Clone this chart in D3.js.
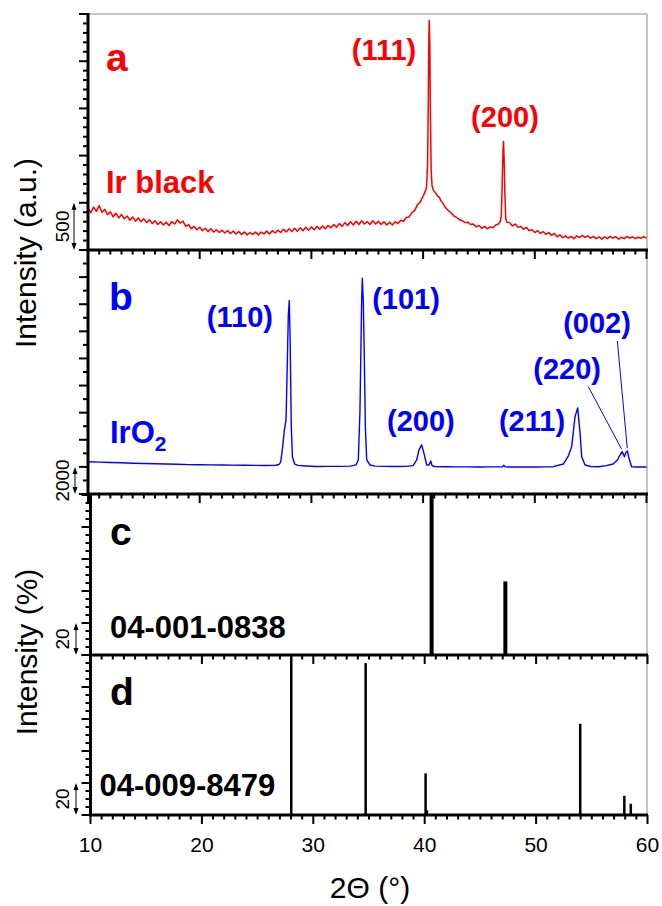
<!DOCTYPE html>
<html>
<head>
<meta charset="utf-8">
<script src="https://cdn.jsdelivr.net/npm/d3@7"></script>
<style>
  body { margin: 0; background: #fff; }
  text { font-family: "Liberation Sans", Arial, Helvetica, sans-serif; }
</style>
</head>
<body>
<svg id="chart" width="662" height="906"></svg>
<script>
// ---- DATA ----
// (a) Ir black, measured pattern [2theta, counts]
const irBlack = [
  [10.0,440],[10.25,395],[10.5,455],[10.75,410],[11.0,470],[11.25,400],[11.5,430],[11.75,375],
  [12.0,405],[12.25,350],[12.5,390],[12.75,340],[13.0,375],[13.25,330],[13.5,360],[13.75,315],
  [14.0,350],[14.25,305],[14.5,340],[14.75,300],[15.0,330],[15.25,290],[15.5,320],[15.75,280],
  [16.0,310],[16.25,270],[16.5,300],[16.75,265],[17.0,295],[17.25,260],[17.5,300],[17.75,275],
  [18.0,320],[18.25,285],[18.5,305],[18.75,250],[19.0,270],[19.25,225],[19.5,250],[19.75,215],
  [20.0,240],[20.25,205],[20.5,230],[20.75,195],[21.0,225],[21.25,190],[21.5,215],[21.75,185],
  [22.0,210],[22.25,180],[22.5,205],[22.75,175],[23.0,200],[23.25,170],[23.5,195],[23.75,165],
  [24.0,190],[24.25,160],[24.5,185],[24.75,165],[25.0,190],[25.25,160],[25.5,190],[25.75,170],
  [26.0,200],[26.25,170],[26.5,205],[26.75,180],[27.0,210],[27.25,185],[27.5,220],[27.75,190],
  [28.0,225],[28.25,195],[28.5,230],[28.75,200],[29.0,235],[29.25,205],[29.5,240],[29.75,210],
  [30.0,245],[30.25,215],[30.5,250],[30.75,220],[31.0,255],[31.25,225],[31.5,260],[31.75,235],
  [32.0,270],[32.25,240],[32.5,280],[32.75,250],[33.0,290],[33.25,260],[33.5,300],[33.75,265],
  [34.0,305],[34.25,270],[34.5,310],[34.75,275],[35.0,300],[35.25,270],[35.5,310],[35.75,275],
  [36.0,305],[36.25,270],[36.5,300],[36.75,265],[37.0,295],[37.25,265],[37.5,300],[37.75,280],
  [38.0,315],[38.25,305],[38.5,345],[38.75,350],[39.0,395],[39.25,420],[39.5,480],[39.75,510],
  [40.0,570],[40.15,610],[40.3,660],[40.4,900],[40.47,1600],[40.52,2280],[40.55,2430],[40.6,2200],
  [40.65,1500],[40.72,850],[40.8,680],[40.9,640],[41.0,620],[41.15,600],[41.3,570],[41.45,560],
  [41.6,520],[41.75,500],[41.9,470],[42.0,450],[42.25,420],[42.5,395],[42.75,360],[43.0,345],
  [43.25,320],[43.5,310],[43.75,290],[44.0,295],[44.25,270],[44.5,275],[44.75,245],[45.0,260],
  [45.25,230],[45.5,250],[45.75,225],[46.0,245],[46.25,235],[46.5,265],[46.75,275],[46.9,300],
  [47.0,360],[47.08,700],[47.15,1050],[47.2,1150],[47.25,980],[47.32,600],[47.4,330],[47.5,295],
  [47.75,290],[48.0,255],[48.25,275],[48.5,240],[48.75,250],[49.0,220],[49.25,240],[49.5,205],
  [49.75,215],[50.0,185],[50.25,205],[50.5,175],[50.75,195],[51.0,165],[51.25,185],[51.5,155],
  [51.75,175],[52.0,140],[52.25,160],[52.5,130],[52.75,150],[53.0,125],[53.25,145],[53.5,120],
  [53.75,150],[54.0,130],[54.25,155],[54.5,135],[54.75,150],[55.0,125],[55.25,145],[55.5,120],
  [55.75,140],[56.0,115],[56.25,140],[56.5,120],[56.75,145],[57.0,125],[57.25,140],[57.5,115],
  [57.75,135],[58.0,120],[58.25,145],[58.5,125],[58.75,140],[59.0,120],[59.25,135],[59.5,125],
  [59.75,140],[60.0,125]
];

// (b) IrO2, measured pattern [2theta, counts]
const irO2 = [
  [10,2380],[11,2350],[12,2320],[13,2300],[14,2270],[15,2250],[16,2230],[17,2210],[18,2190],
  [19,2170],[20,2160],[21,2150],[22,2140],[23,2130],[24,2120],[25,2110],[26,2100],[26.8,2120],
  [27.1,2180],[27.25,2350],[27.43,3490],[27.58,4720],[27.73,5460],[27.85,9890],[27.93,13090],
  [28.02,14270],[28.1,11140],[28.2,4970],[28.3,2750],[28.5,2210],[28.8,2110],[29.5,2070],
  [30.5,2030],[31.5,2040],[32.5,2040],[33.5,2060],[34.0,2150],[34.2,2510],[34.35,6200],
  [34.44,11140],[34.5,14300],[34.56,15920],[34.65,14100],[34.74,9890],[34.83,4970],[34.95,2510],
  [35.25,2140],[35.7,2060],[36.5,2040],[37.5,2030],[38.5,2040],[39.1,2090],[39.43,2510],
  [39.63,3250],[39.87,3620],[40.08,3000],[40.32,2140],[40.55,2150],[40.68,2440],[40.8,2100],
  [41.0,2030],[42,2010],[43,2000],[44,2000],[45,1995],[46,2000],[47.1,2000],[47.22,2120],
  [47.35,2000],[48,1990],[49,1990],[50,1990],[51,2000],[51.66,2015],[52.55,2210],[53.0,2800],
  [53.3,3490],[53.6,5700],[53.84,6350],[54.05,4500],[54.2,2750],[54.5,2140],[55,2030],
  [55.7,2010],[56.4,2090],[57.0,2210],[57.4,2510],[57.65,2900],[57.83,3120],[58.02,2750],
  [58.15,3050],[58.28,3170],[58.45,2600],[58.67,2015],[59.2,1990],[60,1990]
];

// (c) Ir reference card 04-001-0838
const irRefTheta = [40.62, 47.24];
const irRefInt = [100, 46];

// (d) IrO2 reference card 04-009-8479
const irO2RefTheta = [28.02, 34.70, 40.08, 40.20, 53.96, 57.92, 58.50];
const irO2RefInt = [100, 95, 26, 3, 57, 12, 7];

// peak labels [text, 2theta, intensity at baseline]
const irLabels = [['(111)', 36.5, 2013], ['(200)', 47.33, 1303]];
const irO2Labels = [
  ['(110)', 23.6, 12325], ['(101)', 38.47, 13650], ['(200)', 39.8, 4650],
  ['(211)', 49.75, 4650], ['(220)', 52.9, 8490], ['(002)', 55.57, 11880]
];
// leader lines [2theta1, int1, 2theta2, int2]
const irO2Leaders = [[54.79, 7920, 57.78, 3300], [57.39, 11290, 58.28, 3370]];

const xTicks = [10, 20, 30, 40, 50, 60];

// ---- LAYOUT ----
const svg = d3.select('#chart');
const RED = '#ff0000', BLUE = '#0000ff';

const panels = [
  { top: 14,  bottom: 250, left: 88,   right: 646.5, yMax: 2500,  major: 500,  minor: 100,  bar: 500,  barText: '500',  barX: 74 },
  { top: 250, bottom: 494, left: 88,   right: 646.5, yMax: 18000, major: 2000, minor: 1000, bar: 2000, barText: '2000', barX: 75 },
  { top: 495, bottom: 655, left: 90.5, right: 647.5, yMax: 100,   major: 20,   minor: 5,    bar: 20,   barText: '20',   barX: 76 },
  { top: 655, bottom: 815, left: 90.5, right: 647.5, yMax: 100,   major: 20,   minor: 5,    bar: 20,   barText: '20',   barX: 76 }
];

panels.forEach((p) => {
  p.x = d3.scaleLinear().domain([10, 60]).range([p.left, p.right]);
  p.y = d3.scaleLinear().domain([0, p.yMax]).range([p.bottom, p.top]);
});

// FRAME (thin grey top and right)
svg.append('line').attr('x1', 88).attr('x2', 647).attr('y1', 14).attr('y2', 14)
  .attr('stroke', '#8a8a8a').attr('stroke-width', 1);
svg.append('line').attr('x1', 647).attr('x2', 647).attr('y1', 14).attr('y2', 815)
  .attr('stroke', '#8a8a8a').attr('stroke-width', 1);

// DRAW CURVES
const lineGen = (p) => d3.line().x((d) => p.x(d[0])).y((d) => p.y(d[1]));

svg.append('path').datum(irBlack)
  .attr('fill', 'none').attr('stroke', RED).attr('stroke-width', 1.5)
  .attr('stroke-linejoin', 'round').attr('d', lineGen(panels[0]));

svg.append('path').datum(irO2)
  .attr('fill', 'none').attr('stroke', BLUE).attr('stroke-width', 1.4)
  .attr('stroke-linejoin', 'round').attr('d', lineGen(panels[1]));

// STICKS
function sticks(p, th, iv, w) {
  svg.append('g').selectAll('line').data(th).enter().append('line')
    .attr('x1', (d) => p.x(d)).attr('x2', (d) => p.x(d))
    .attr('y1', p.y(0)).attr('y2', (d, i) => p.y(iv[i]))
    .attr('stroke', '#000').attr('stroke-width', w);
}
sticks(panels[2], irRefTheta, irRefInt, 4);
sticks(panels[3], irO2RefTheta, irO2RefInt, 2.5);

// AXES (drawn from the scales)
panels.forEach((p, i) => {
  const ax = svg.append('g');
  const yv = d3.range(0, p.yMax + 1, p.minor);
  const xv = d3.range(10, 61, 1);

  // left ticks
  ax.selectAll('.yt').data(yv).enter().append('line')
    .attr('x1', (d) => p.left - (d % p.major === 0 ? 9 : 5)).attr('x2', p.left)
    .attr('y1', (d) => p.y(d)).attr('y2', (d) => p.y(d))
    .attr('stroke', '#000').attr('stroke-width', 2);

  // bottom ticks
  ax.selectAll('.xt').data(xv).enter().append('line')
    .attr('x1', (d) => p.x(d)).attr('x2', (d) => p.x(d))
    .attr('y1', p.bottom).attr('y2', (d) => p.bottom + (xTicks.includes(d) ? 9 : 4.5))
    .attr('stroke', '#000').attr('stroke-width', 2);

  // spines
  ax.append('line').attr('x1', p.left).attr('x2', p.left).attr('y1', p.top - 1).attr('y2', p.bottom + 1.5)
    .attr('stroke', '#000').attr('stroke-width', 3);
  ax.append('line').attr('x1', p.left - 1.5).attr('x2', 648).attr('y1', p.bottom).attr('y2', p.bottom)
    .attr('stroke', '#000').attr('stroke-width', 3);

  if (i === panels.length - 1) {
    ax.selectAll('.xl').data(xTicks).enter().append('text')
      .attr('x', (d) => p.x(d)).attr('y', 852)
      .attr('text-anchor', 'middle').attr('font-size', 21).text((d) => d);
  }

  // scale bar
  const y0 = p.y(0), y1 = p.y(p.bar), bx = p.barX;
  ax.append('line').attr('x1', bx).attr('x2', bx).attr('y1', y1 + 4).attr('y2', y0 - 4)
    .attr('stroke', '#000').attr('stroke-width', 1);
  ax.append('path').attr('d', `M${bx},${y1} l-2.5,7 l5,0 z M${bx},${y0} l-2.5,-7 l5,0 z`).attr('fill', '#000');
  ax.append('text').attr('transform', `translate(69,${(y0 + y1) / 2}) rotate(-90)`)
    .attr('text-anchor', 'middle').attr('font-size', 19).text(p.barText);
});

// PEAK LABELS
function labels(p, arr, col) {
  svg.append('g').selectAll('text').data(arr).enter().append('text')
    .attr('x', (d) => p.x(d[1])).attr('y', (d) => p.y(d[2]))
    .attr('text-anchor', 'middle').attr('font-size', 29).attr('font-weight', 'bold')
    .attr('fill', col).text((d) => d[0]);
}
labels(panels[0], irLabels, RED);
labels(panels[1], irO2Labels, BLUE);

svg.append('g').selectAll('line').data(irO2Leaders).enter().append('line')
  .attr('x1', (d) => panels[1].x(d[0])).attr('y1', (d) => panels[1].y(d[1]))
  .attr('x2', (d) => panels[1].x(d[2])).attr('y2', (d) => panels[1].y(d[3]))
  .attr('stroke', BLUE).attr('stroke-width', 1);

// PANEL TEXT
const bold = (x, y, s, col, fs) => svg.append('text').attr('x', x).attr('y', y)
  .attr('font-size', fs).attr('font-weight', 'bold').attr('fill', col).text(s);

bold(106, 70.5, 'a', RED, 39);
bold(106, 193, 'Ir black', RED, 31);
bold(109, 310, 'b', BLUE, 39);
const t = bold(110, 443, 'IrO', BLUE, 31);
t.append('tspan').attr('font-size', 21).attr('dy', 8).text('2');
bold(110, 545, 'c', '#000', 39);
bold(110, 638, '04-001-0838', '#000', 31);
bold(110, 705, 'd', '#000', 39);
bold(99.5, 796, '04-009-8479', '#000', 31);

// AXIS TITLES
svg.append('text').attr('transform', 'translate(36,253) rotate(-90)')
  .attr('text-anchor', 'middle').attr('font-size', 30).text('Intensity (a.u.)');
svg.append('text').attr('transform', 'translate(37,652) rotate(-90)')
  .attr('text-anchor', 'middle').attr('font-size', 30).text('Intensity (%)');
svg.append('text').attr('x', 370).attr('y', 898)
  .attr('text-anchor', 'middle').attr('font-size', 30).text('2\u0398 (\u00b0)');
</script>
</body>
</html>
